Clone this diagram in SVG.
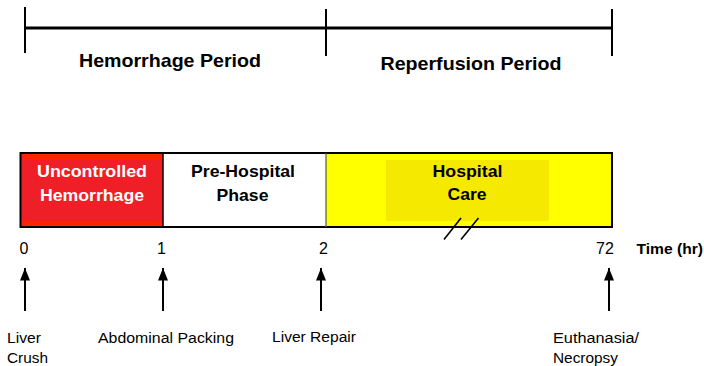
<svg xmlns="http://www.w3.org/2000/svg" width="704" height="366" viewBox="0 0 704 366">
<style>
.t{font-family:"Liberation Sans",Arial,sans-serif;fill:#000}
.b{font-weight:bold}
.w{fill:#fff}
.ln{stroke:#000;fill:none}
</style>
<defs>
<marker id="ah" markerUnits="userSpaceOnUse" markerWidth="13" markerHeight="11" viewBox="0 0 13 11" refX="12.5" refY="5.5" orient="auto">
<path d="M12.5 5.5 L0 0.5 L0 10.5 Z" fill="#000"/>
</marker>
</defs>
<rect width="704" height="366" fill="#fff"/>

<g id="periods">
<line class="ln" x1="25" y1="28" x2="612" y2="28" stroke-width="3"/>
<line class="ln" x1="25" y1="7" x2="25" y2="53" stroke-width="2"/>
<line class="ln" x1="326" y1="9" x2="326" y2="56" stroke-width="2"/>
<line class="ln" x1="612" y1="9" x2="612" y2="56" stroke-width="2"/>
<text class="t b" x="170" y="66.5" font-size="18.5" text-anchor="middle" textLength="182" lengthAdjust="spacingAndGlyphs">Hemorrhage Period</text>
<text class="t b" x="471" y="70" font-size="18.5" text-anchor="middle" textLength="181" lengthAdjust="spacingAndGlyphs">Reperfusion Period</text>
</g>

<g id="uncontrolled">
<rect x="20" y="153" width="143" height="74" fill="#ff2400"/>
<rect x="20" y="160" width="143" height="61" fill="#ee1f26"/>
<text class="t b w" x="92" y="176.5" font-size="16.5" text-anchor="middle" textLength="110" lengthAdjust="spacingAndGlyphs">Uncontrolled</text>
<text class="t b w" x="92" y="200.5" font-size="16.5" text-anchor="middle" textLength="104" lengthAdjust="spacingAndGlyphs">Hemorrhage</text>
</g>

<g id="prehospital">
<rect x="163" y="153" width="163" height="74" fill="#fff"/>
<text class="t b" x="243" y="176.5" font-size="16.5" text-anchor="middle" textLength="104" lengthAdjust="spacingAndGlyphs">Pre-Hospital</text>
<text class="t b" x="242.5" y="200.5" font-size="16.5" text-anchor="middle" textLength="52" lengthAdjust="spacingAndGlyphs">Phase</text>
</g>

<g id="hospital">
<rect x="326" y="153" width="286" height="74" fill="#ffff00"/>
<rect x="386" y="160" width="163" height="61" fill="#f5e900"/>
<text class="t b" x="467.5" y="176.5" font-size="16.5" text-anchor="middle" textLength="70" lengthAdjust="spacingAndGlyphs">Hospital</text>
<text class="t b" x="467" y="200" font-size="16.5" text-anchor="middle" textLength="39" lengthAdjust="spacingAndGlyphs">Care</text>
</g>

<g id="bar-frame">
<rect x="20.5" y="153" width="591.5" height="74" fill="none" stroke="#000" stroke-width="2"/>
<line class="ln" x1="163" y1="153" x2="163" y2="227" stroke-width="1.5"/>
<line x1="326" y1="153" x2="326" y2="227" stroke="#555" stroke-width="1.2"/>
<line class="ln" x1="444" y1="239.5" x2="461" y2="218" stroke-width="1.6"/>
<line class="ln" x1="461" y1="239.5" x2="478.5" y2="218" stroke-width="1.6"/>
</g>

<g id="axis">
<text class="t" x="24" y="254" font-size="16" text-anchor="middle">0</text>
<text class="t" x="161.5" y="254" font-size="16" text-anchor="middle">1</text>
<text class="t" x="323.5" y="254" font-size="16" text-anchor="middle">2</text>
<text class="t" x="605" y="254" font-size="16" text-anchor="middle">72</text>
<text class="t b" x="636.5" y="254" font-size="15.5" textLength="66.5" lengthAdjust="spacingAndGlyphs">Time (hr)</text>
</g>

<g id="connectors">
<line class="ln" x1="25" y1="311" x2="25" y2="268" stroke-width="2" marker-end="url(#ah)"/>
<line class="ln" x1="163" y1="311" x2="163" y2="268" stroke-width="2" marker-end="url(#ah)"/>
<line class="ln" x1="321" y1="311" x2="321" y2="268" stroke-width="2" marker-end="url(#ah)"/>
<line class="ln" x1="609" y1="311" x2="609" y2="268" stroke-width="2" marker-end="url(#ah)"/>
</g>

<g id="events">
<text class="t" x="7" y="343" font-size="15.5" textLength="34" lengthAdjust="spacingAndGlyphs">Liver</text>
<text class="t" x="7" y="363" font-size="15.5" textLength="41" lengthAdjust="spacingAndGlyphs">Crush</text>
<text class="t" x="98" y="343" font-size="15.5" textLength="136" lengthAdjust="spacingAndGlyphs">Abdominal Packing</text>
<text class="t" x="272" y="342" font-size="15.5" textLength="84" lengthAdjust="spacingAndGlyphs">Liver Repair</text>
<text class="t" x="553" y="343" font-size="15.5" textLength="86" lengthAdjust="spacingAndGlyphs">Euthanasia/</text>
<text class="t" x="553" y="363" font-size="15.5" textLength="65" lengthAdjust="spacingAndGlyphs">Necropsy</text>
</g>
</svg>
